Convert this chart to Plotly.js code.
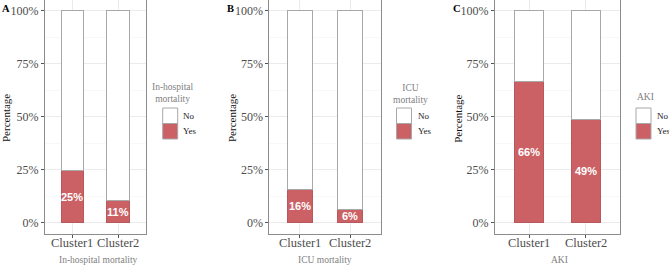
<!DOCTYPE html>
<html>
<head>
<meta charset="utf-8">
<script src="https://cdn.plot.ly/plotly-3.0.1.min.js"></script>
<style>html,body{margin:0;padding:0;background:#fff;}</style>
</head>
<body>
<div id="chart" style="width:669px;height:265px;"></div>
<script>
// ---- data ----
const clusters = ['Cluster1', 'Cluster2'];
const hospYes = [0.246, 0.107];
const hospNo  = [0.754, 0.893];
const icuYes  = [0.159, 0.063];
const icuNo   = [0.841, 0.937];
const akiYes  = [0.664, 0.488];
const akiNo   = [0.336, 0.512];
const panelLetters = ['A', 'B', 'C'];
const xTitles = ['In-hospital mortality', 'ICU mortality', 'AKI'];
const legendTitles = ['In-hospital<br>mortality', 'ICU<br>mortality', 'AKI'];
const legendLabels = ['No', 'Yes'];
const yTickVals = [0, 0.25, 0.5, 0.75, 1];
const yTickText = ['0%', '25%', '50%', '75%', '100%'];

const W = 669, H = 265;
const px = v => v / W;
const py = v => 1 - v / H;

const RED = '#CB6165';
const NOLINE = '#a8a8a8';
const SERIF = 'Liberation Serif, Times New Roman, serif';

const panels = [
  {yes: hospYes, no: hospNo, x0: 45, x1: 145.7, letterX: 0, percX: 5.5, xtX: 98.5, legT: {x: 172.5, y: 92.5}, keyX: 162.7, labX: 180.5},
  {yes: icuYes, no: icuNo, x0: 269.3, x1: 380.7, letterX: 224.5, percX: 231.5, xtX: 325.2, legT: {x: 410.5, y: 93.5}, keyX: 396.5, labX: 415.5},
  {yes: akiYes, no: akiNo, x0: 495, x1: 620, letterX: 451.5, percX: 457.3, xtX: 559.5, legT: {x: 645, y: 96.7}, keyX: 636, labX: 655}
];

const traces = [];
const layout = {
  width: W, height: H, autosize: false,
  margin: {l: 0, r: 0, t: 0, b: 0, pad: 0},
  paper_bgcolor: '#fff', plot_bgcolor: '#fff',
  barmode: 'stack', bargap: 0.5,
  showlegend: false,
  annotations: [], shapes: []
};

const yTop = 0, yBot = 233.5;

panels.forEach((p, i) => {
  const n = i === 0 ? '' : String(i + 1);
  const xa = 'x' + n, ya = 'y' + n;
  traces.push({
    type: 'bar', x: clusters, y: p.yes, xaxis: xa, yaxis: ya, width: 0.5,
    marker: {color: RED, line: {color: '#b9575b', width: 1}}, hoverinfo: 'skip'
  });
  traces.push({
    type: 'bar', x: clusters, y: p.no, xaxis: xa, yaxis: ya, width: 0.5,
    marker: {color: '#ffffff', line: {color: NOLINE, width: 1}}, hoverinfo: 'skip'
  });
  layout['xaxis' + n] = {
    domain: [px(p.x0), px(p.x1)], anchor: ya, type: 'category',
    range: [-0.6, 1.6], showgrid: true, gridcolor: '#ebebeb', gridwidth: 1,
    showline: true, mirror: true, linecolor: '#8c8c8c', linewidth: 1,
    ticks: 'outside', ticklen: 3, tickcolor: '#555', zeroline: false,
    showticklabels: false, fixedrange: true
  };
  layout['yaxis' + n] = {
    domain: [py(yBot), py(yTop)], anchor: xa,
    range: [-0.05, 1.05], tickvals: yTickVals, ticktext: yTickText,
    showgrid: true, gridcolor: '#ebebeb', gridwidth: 1,
    minor: {dtick: 0.125, tick0: 0, showgrid: true, gridcolor: '#f4f4f4', gridwidth: 0.6},
    showline: true, mirror: true, linecolor: '#8c8c8c', linewidth: 1,
    ticks: 'outside', ticklen: 3, tickcolor: '#555', zeroline: false,
    tickfont: {family: SERIF, size: 12, color: '#4d4d4d'}, fixedrange: true
  };
  // x tick labels (category positions via the axis)
  clusters.forEach(c => {
    layout.annotations.push({
      xref: xa, yref: 'paper', x: c, y: py(242.5), showarrow: false,
      text: c, xanchor: 'center', yanchor: 'middle',
      font: {family: SERIF, size: 12.5, color: '#4d4d4d'}
    });
  });
  // in-bar labels
  p.yes.forEach((v, j) => {
    layout.annotations.push({
      xref: xa, yref: ya, x: clusters[j], y: v / 2, showarrow: false,
      text: Math.round(v * 100) + '%',
      font: {family: 'Liberation Sans, Arial, sans-serif', size: 11, color: '#ffffff', weight: 'bold'},
      xanchor: 'center', yanchor: 'middle'
    });
  });
  // panel letter
  layout.annotations.push({
    xref: 'paper', yref: 'paper', x: px(p.letterX), y: py(8.3), showarrow: false,
    text: '<b>' + panelLetters[i] + '</b>', xanchor: 'left', yanchor: 'middle',
    font: {family: SERIF, size: 10.5, color: '#000'}
  });
  // y title
  layout.annotations.push({
    xref: 'paper', yref: 'paper', x: px(p.percX), y: py(118.5), showarrow: false,
    text: 'Percentage', textangle: -90, xanchor: 'center', yanchor: 'middle',
    font: {family: SERIF, size: 11, color: '#111'}
  });
  // x title
  layout.annotations.push({
    xref: 'paper', yref: 'paper', x: px(p.xtX), y: py(259.5), showarrow: false,
    text: xTitles[i], xanchor: 'center', yanchor: 'middle',
    font: {family: SERIF, size: 9.5, color: '#808080'}
  });
  // legend title
  layout.annotations.push({
    xref: 'paper', yref: 'paper', x: px(p.legT.x), y: py(p.legT.y), showarrow: false,
    text: legendTitles[i], xanchor: 'center', yanchor: 'middle', align: 'center',
    font: {family: SERIF, size: 9.5, color: '#808080'}
  });
  // legend keys
  const keyTop = 108, keyH = 15.5, keyW = 15;
  [['#ffffff', NOLINE], [RED, '#b9575b']].forEach((c, k) => {
    layout.shapes.push({
      type: 'rect', xref: 'paper', yref: 'paper',
      x0: px(p.keyX), x1: px(p.keyX + keyW),
      y0: py(keyTop + k * keyH), y1: py(keyTop + (k + 1) * keyH),
      fillcolor: c[0], line: {color: '#a8a8a8', width: 1}
    });
    layout.annotations.push({
      xref: 'paper', yref: 'paper', x: px(p.labX), y: py(keyTop + k * keyH + keyH / 2), showarrow: false,
      text: legendLabels[k], xanchor: 'left', yanchor: 'middle',
      font: {family: SERIF, size: 9, color: '#1a1a1a'}
    });
  });
});

Plotly.newPlot('chart', traces, layout, {staticPlot: true, displayModeBar: false});
</script>
</body>
</html>
